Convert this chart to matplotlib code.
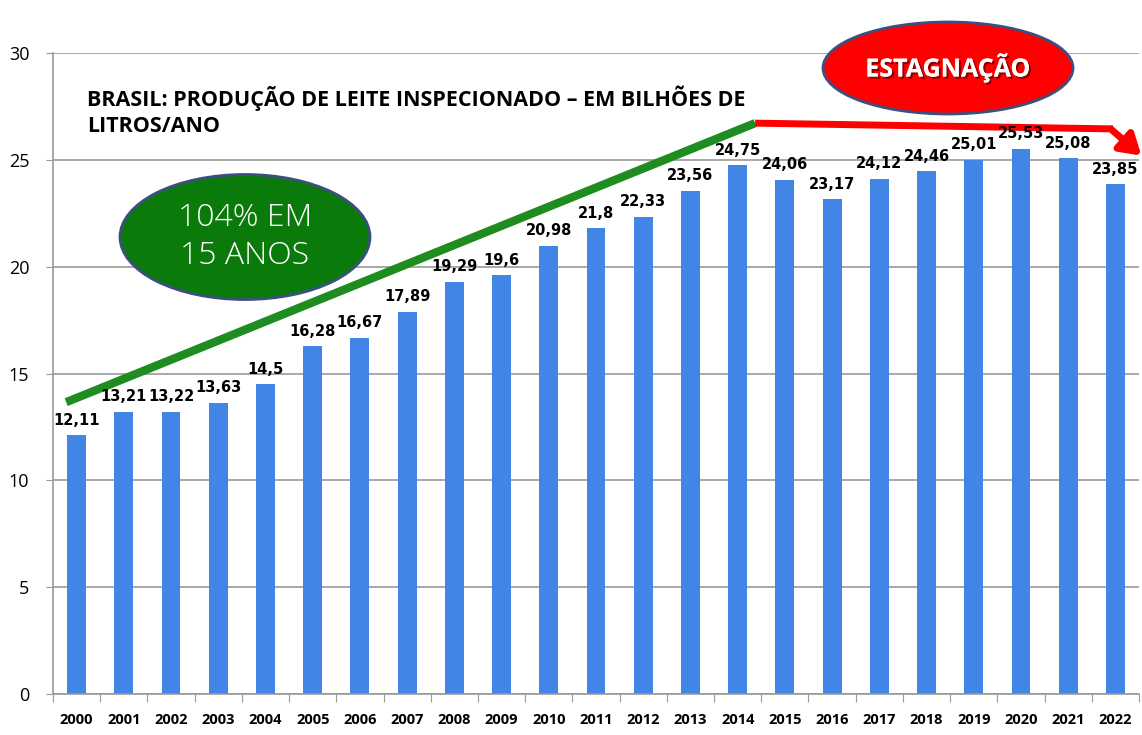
import matplotlib.pyplot as plt
from matplotlib.patches import Ellipse
import matplotlib.patheffects as pe
import numpy as np

anos = [str(a) for a in range(2000, 2023)]
producao = [12.11, 13.21, 13.22, 13.63, 14.5, 16.28, 16.67, 17.89, 19.29, 19.6,
            20.98, 21.8, 22.33, 23.56, 24.75, 24.06, 23.17, 24.12, 24.46, 25.01,
            25.53, 25.08, 23.85]
y_ticks = [0, 5, 10, 15, 20, 25, 30]

fig = plt.figure(figsize=(11.42, 7.35), dpi=100)
ax = fig.add_axes([0.0464, 0.0558, 0.951, 0.872])

x = np.arange(len(anos))
ax.bar(x, producao, width=0.4, color='#4185e6', zorder=2)
ax.set_xlim(-0.5, len(anos) - 0.5)
ax.set_ylim(0, 30)
ax.set_yticks(y_ticks)
ax.set_yticklabels([str(t) for t in y_ticks], fontsize=13, family='Open Sans')
ax.yaxis.grid(True, color='#999999', linewidth=1.2, zorder=0)
ax.tick_params(axis='y', length=5, color='#999999', pad=12)

# ticks between categories, labels in the middle
ax.set_xticks(np.arange(len(anos) + 1) - 0.5)
ax.set_xticklabels([])
ax.set_xticks(x, minor=True)
ax.set_xticklabels(anos, minor=True, fontsize=10.5, fontweight='bold', family='Open Sans')
ax.tick_params(axis='x', which='major', length=6, color='#999999')
ax.tick_params(axis='x', which='minor', length=0, pad=14)

for s in ['top', 'right']:
    ax.spines[s].set_visible(False)
for s in ['left', 'bottom']:
    ax.spines[s].set_color('#999999')
    ax.spines[s].set_linewidth(1.2)

for xi, v in zip(x, producao):
    ax.text(xi, v + 0.35, str(v).replace('.', ','), ha='center', va='bottom',
            fontsize=10.5, fontweight='bold', family='DejaVu Sans', zorder=5)

ax.text(0.23, 28.5, 'BRASIL: PRODUÇÃO DE LEITE INSPECIONADO – EM BILHÕES DE\nLITROS/ANO',
        fontsize=15.5, fontweight='bold', family='Open Sans', va='top', ha='left',
        linespacing=1.35)

# green trend line and red stagnation arrow
ax.plot([-0.22, 14.37], [13.66, 26.72], color='#1e8c1e', linewidth=6, zorder=4,
        solid_capstyle='butt')
ax.plot([14.37, 21.95], [26.72, 26.45], color='#ff0000', linewidth=5, zorder=4,
        solid_capstyle='butt', clip_on=False)
ax.annotate('', xy=(22.55, 25.2), xytext=(21.9, 26.45), annotation_clip=False,
            arrowprops=dict(arrowstyle='-|>,head_width=0.75,head_length=1.2',
                            color='#ff0000', lw=5, shrinkA=0, shrinkB=0), zorder=4)

# ellipses (figure coordinates in pixels)
W, H = 1142, 735
e1 = Ellipse((245 / W, 1 - 237 / H), 250 / W, 125 / H, transform=fig.transFigure,
             facecolor='#0a7a0a', edgecolor='#3b4f80', linewidth=2, zorder=6)
fig.patches.append(e1)
fig.text(245 / W, 1 - 237 / H, '104% EM\n15 ANOS', color='white', fontsize=23,
         ha='center', va='center', linespacing=1.25, family='Open Sans',
         fontweight='light', zorder=7)
e2 = Ellipse((948 / W, 1 - 68 / H), 250 / W, 92 / H, transform=fig.transFigure,
             facecolor='#ff0000', edgecolor='#3b4f80', linewidth=2, zorder=6)
fig.patches.append(e2)
fig.text(948 / W, 1 - 68 / H, 'ESTAGNAÇÃO', color='white', fontsize=18,
         fontweight='bold', ha='center', va='center', family='Open Sans', zorder=7,
         path_effects=[pe.withSimplePatchShadow(offset=(1.5, -1.5), shadow_rgbFace='#700000', alpha=0.8), pe.Normal()])

fig.savefig('out.png', dpi=100)
